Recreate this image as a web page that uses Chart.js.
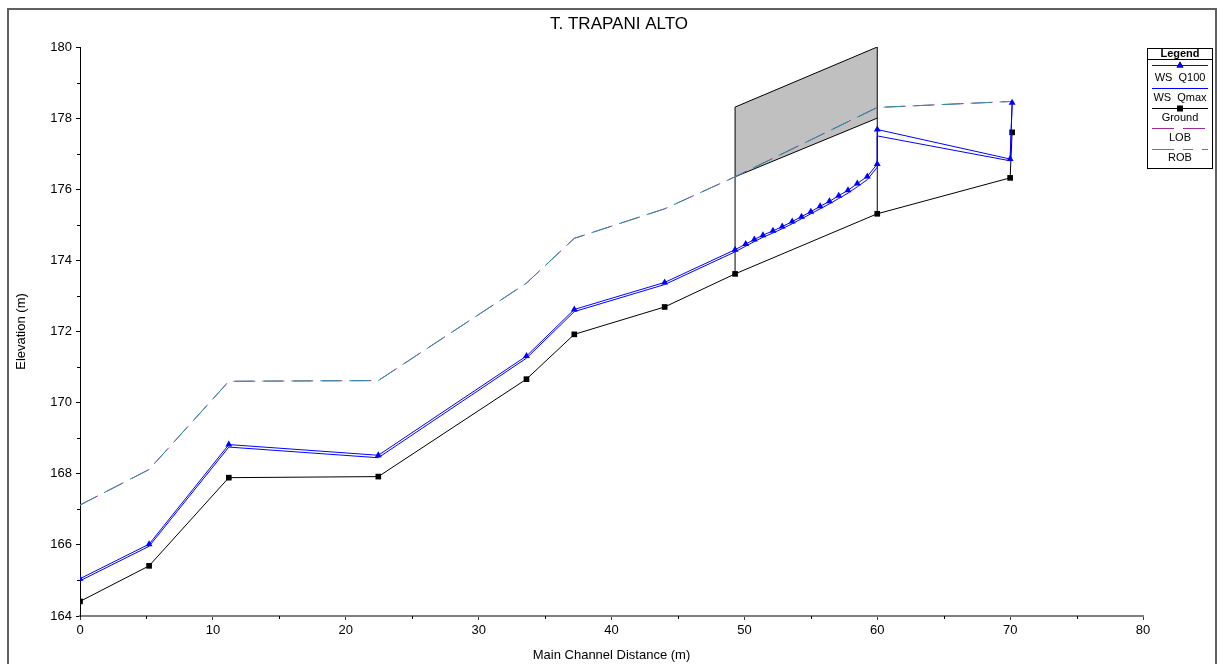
<!DOCTYPE html>
<html>
<head>
<meta charset="utf-8">
<script src="https://cdn.jsdelivr.net/npm/chart.js@4.4.1/dist/chart.umd.min.js"></script>
<style>
  html, body { margin: 0; padding: 0; background: #fff; }
  #wrap { width: 1224px; height: 664px; position: relative; }
</style>
</head>
<body>
<div id="wrap"><canvas id="profileChart"></canvas></div>
<script>
// water surface profiles (main channel distance in m, elevation in m)
const wsStations = [0, 5.2, 11.2, 22.45, 33.6, 37.2, 44.0, 49.3, 50.1, 50.75, 51.4, 52.15, 52.85, 53.6, 54.3,
  55.0, 55.7, 56.4, 57.1, 57.8, 58.5, 59.25, 60, 60, 70, 70.15];
const wsQ100 = [165.05, 166.02, 168.82, 168.52, 171.31, 172.62, 173.38, 174.30, 174.46, 174.59, 174.71, 174.83,
  174.95, 175.09, 175.23, 175.37, 175.52, 175.66, 175.82, 175.97, 176.16, 176.36, 176.71, 177.68, 176.85, 178.43];
const wsQmax = [164.99, 165.96, 168.75, 168.45, 171.25, 172.56, 173.32, 174.24, 174.40, 174.53, 174.65, 174.77,
  174.89, 175.03, 175.17, 175.31, 175.45, 175.59, 175.74, 175.89, 176.07, 176.27, 176.62, 177.50, 176.80, 178.38];

const groundStations = [0, 5.2, 11.2, 22.45, 33.6, 37.2, 44.0, 49.3, 60, 70, 70.15];
const ground = [164.41, 165.41, 167.89, 167.92, 170.66, 171.92, 172.69, 173.62, 175.31, 176.32, 177.6];

const bankStations = [0, 5.2, 11.2, 22.45, 33.6, 37.2, 44.0, 49.3, 60, 70.15];
const lob = [167.12, 168.12, 170.60, 170.62, 173.36, 174.62, 175.45, 176.35, 178.30, 178.47];
const rob = [167.12, 168.12, 170.60, 170.62, 173.36, 174.62, 175.45, 176.35, 178.30, 178.47];

// bridge deck
const bridgeStations = [49.3, 60];
const bridgeHighChord = [178.31, 180.0];
const bridgeLowChord = [176.35, 178.0];
const bridgeGround = [173.62, 175.31];

const xTicks = [0, 10, 20, 30, 40, 50, 60, 70, 80];
const yTicks = [164, 166, 168, 170, 172, 174, 176, 178, 180];

const FONT = '"Liberation Sans", Arial, sans-serif';
const LOB_COLOR = '#9a2a9a';
const ROB_COLOR = '#2a95a0';

function pts(xs, ys) {
  return xs.map((x, i) => ({ x: x, y: ys[i] }));
}

const legendItems = [
  { text: 'WS  Q100', color: '#0000ff', marker: 'triangle', dash: [] },
  { text: 'WS  Qmax', color: '#0000ff', marker: null, dash: [] },
  { text: 'Ground', color: '#000000', marker: 'rect', dash: [] },
  { text: 'LOB', color: LOB_COLOR, marker: null, dash: [22, 9] },
  { text: 'ROB', color: ROB_COLOR, marker: null, dash: [22, 9, 10, 9] }
];

const extras = {
  id: 'extras',
  afterDraw(chart) {
    const ctx = chart.ctx;
    const xs = chart.scales.x, ys = chart.scales.y;
    ctx.save();

    // minor ticks
    ctx.strokeStyle = '#000';
    ctx.lineWidth = 1;
    ctx.beginPath();
    for (let i = 0; i < yTicks.length - 1; i++) {
      const p = Math.round(ys.getPixelForValue((yTicks[i] + yTicks[i + 1]) / 2)) + 0.5;
      ctx.moveTo(xs.left - 3, p);
      ctx.lineTo(xs.left, p);
    }
    for (let i = 0; i < xTicks.length - 1; i++) {
      const p = Math.round(xs.getPixelForValue((xTicks[i] + xTicks[i + 1]) / 2)) + 0.5;
      ctx.moveTo(p, ys.bottom);
      ctx.lineTo(p, ys.bottom + 3);
    }
    ctx.stroke();

    // outer frame
    ctx.strokeStyle = '#606060';
    ctx.lineWidth = 2;
    ctx.strokeRect(8, 9, 1208, 700);

    // title
    ctx.fillStyle = '#000';
    ctx.font = '17px ' + FONT;
    ctx.textAlign = 'center';
    ctx.textBaseline = 'middle';
    ctx.fillText('T. TRAPANI ALTO', 619, 24);

    // legend box
    const L = 1147.5, R = 1212.5, T = 48.5, B = 168.5;
    ctx.strokeStyle = '#000';
    ctx.lineWidth = 1;
    ctx.strokeRect(L, T, R - L, B - T);
    ctx.beginPath();
    ctx.moveTo(L, 59.5);
    ctx.lineTo(R, 59.5);
    ctx.stroke();
    ctx.font = 'bold 11px ' + FONT;
    ctx.fillText('Legend', (L + R) / 2, 54);

    const lineY = [65.5, 88.5, 108.5, 128.5, 149.5];
    const textY = [77.5, 97.5, 117.5, 138, 158];
    ctx.font = '11px ' + FONT;
    legendItems.forEach((it, i) => {
      ctx.strokeStyle = it.color;
      ctx.lineWidth = 1;
      ctx.setLineDash(it.dash);
      ctx.beginPath();
      ctx.moveTo(1152, lineY[i]);
      ctx.lineTo(1208, lineY[i]);
      ctx.stroke();
      ctx.setLineDash([]);
      if (it.marker) {
        Chart.helpers.drawPoint(ctx, { pointStyle: it.marker, radius: 4, rotation: 0, borderWidth: 0 }, 1180, lineY[i]);
        ctx.fillStyle = it.color;
        ctx.fill();
      }
      ctx.fillStyle = '#000';
      ctx.fillText(it.text, (L + R) / 2, textY[i]);
    });

    ctx.restore();
  }
};

const lineBase = { showLine: true, tension: 0, borderWidth: 1, pointRadius: 0, pointHoverRadius: 0 };

const datasets = [
  Object.assign({}, lineBase, {
    label: 'WS Q100', data: pts(wsStations, wsQ100), borderColor: '#0000ff',
    pointStyle: 'triangle', pointRadius: 4, pointBackgroundColor: '#0000ff', pointBorderWidth: 0
  }),
  Object.assign({}, lineBase, { label: 'WS Qmax', data: pts(wsStations, wsQmax), borderColor: '#0000ff' }),
  Object.assign({}, lineBase, {
    label: 'Ground', data: pts(groundStations, ground), borderColor: '#000000',
    pointStyle: 'rect', pointRadius: 4, pointBackgroundColor: '#000000', pointBorderWidth: 0
  }),
  Object.assign({}, lineBase, {
    label: 'ROB', data: pts(bankStations, rob), borderColor: ROB_COLOR, borderDash: [20, 9], borderDashOffset: 2
  }),
  Object.assign({}, lineBase, {
    label: 'LOB', data: pts(bankStations, lob), borderColor: LOB_COLOR, borderDash: [20, 9]
  }),
  Object.assign({}, lineBase, {
    label: 'Upstream face', borderColor: '#000',
    data: pts([bridgeStations[0], bridgeStations[0]], [bridgeGround[0], bridgeHighChord[0]])
  }),
  Object.assign({}, lineBase, {
    label: 'Downstream face', borderColor: '#000',
    data: pts([bridgeStations[1], bridgeStations[1]], [bridgeGround[1], bridgeHighChord[1]])
  }),
  Object.assign({}, lineBase, { label: 'Low chord', data: pts(bridgeStations, bridgeLowChord), borderColor: '#000' }),
  Object.assign({}, lineBase, {
    label: 'High chord', data: pts(bridgeStations, bridgeHighChord), borderColor: '#000',
    fill: '-1', backgroundColor: '#c0c0c0'
  })
];

new Chart(document.getElementById('profileChart'), {
  type: 'scatter',
  data: { datasets: datasets },
  options: {
    responsive: true,
    maintainAspectRatio: false,
    animation: false,
    events: [],
    layout: { padding: { left: 0, right: 81, top: 47, bottom: 0 } },
    plugins: {
      legend: { display: false },
      title: { display: false },
      tooltip: { enabled: false }
    },
    scales: {
      x: {
        type: 'linear',
        min: xTicks[0],
        max: xTicks[xTicks.length - 1],
        afterBuildTicks(s) { s.ticks = xTicks.map(v => ({ value: v })); },
        afterFit(s) { s.height = 48; },
        border: { color: '#808080', width: 2 },
        grid: { drawOnChartArea: false, drawTicks: true, tickLength: 4, color: '#404040' },
        ticks: { color: '#000', font: { family: FONT, size: 13 }, padding: 3, maxRotation: 0 },
        title: {
          display: true, text: 'Main Channel Distance (m)', color: '#000',
          font: { family: FONT, size: 13 }, padding: { top: 0, bottom: 1 }
        }
      },
      y: {
        type: 'linear',
        min: yTicks[0],
        max: yTicks[yTicks.length - 1],
        afterBuildTicks(s) { s.ticks = yTicks.map(v => ({ value: v })); },
        afterFit(s) { s.width = 80; },
        border: { color: '#000', width: 1 },
        grid: { drawOnChartArea: false, drawTicks: true, tickLength: 4, color: '#000' },
        ticks: { color: '#000', font: { family: FONT, size: 13 }, padding: 4 },
        title: {
          display: true, text: 'Elevation (m)', color: '#000',
          font: { family: FONT, size: 13 }, padding: { top: 14, bottom: 0 }
        }
      }
    }
  },
  plugins: [extras]
});
</script>
</body>
</html>
